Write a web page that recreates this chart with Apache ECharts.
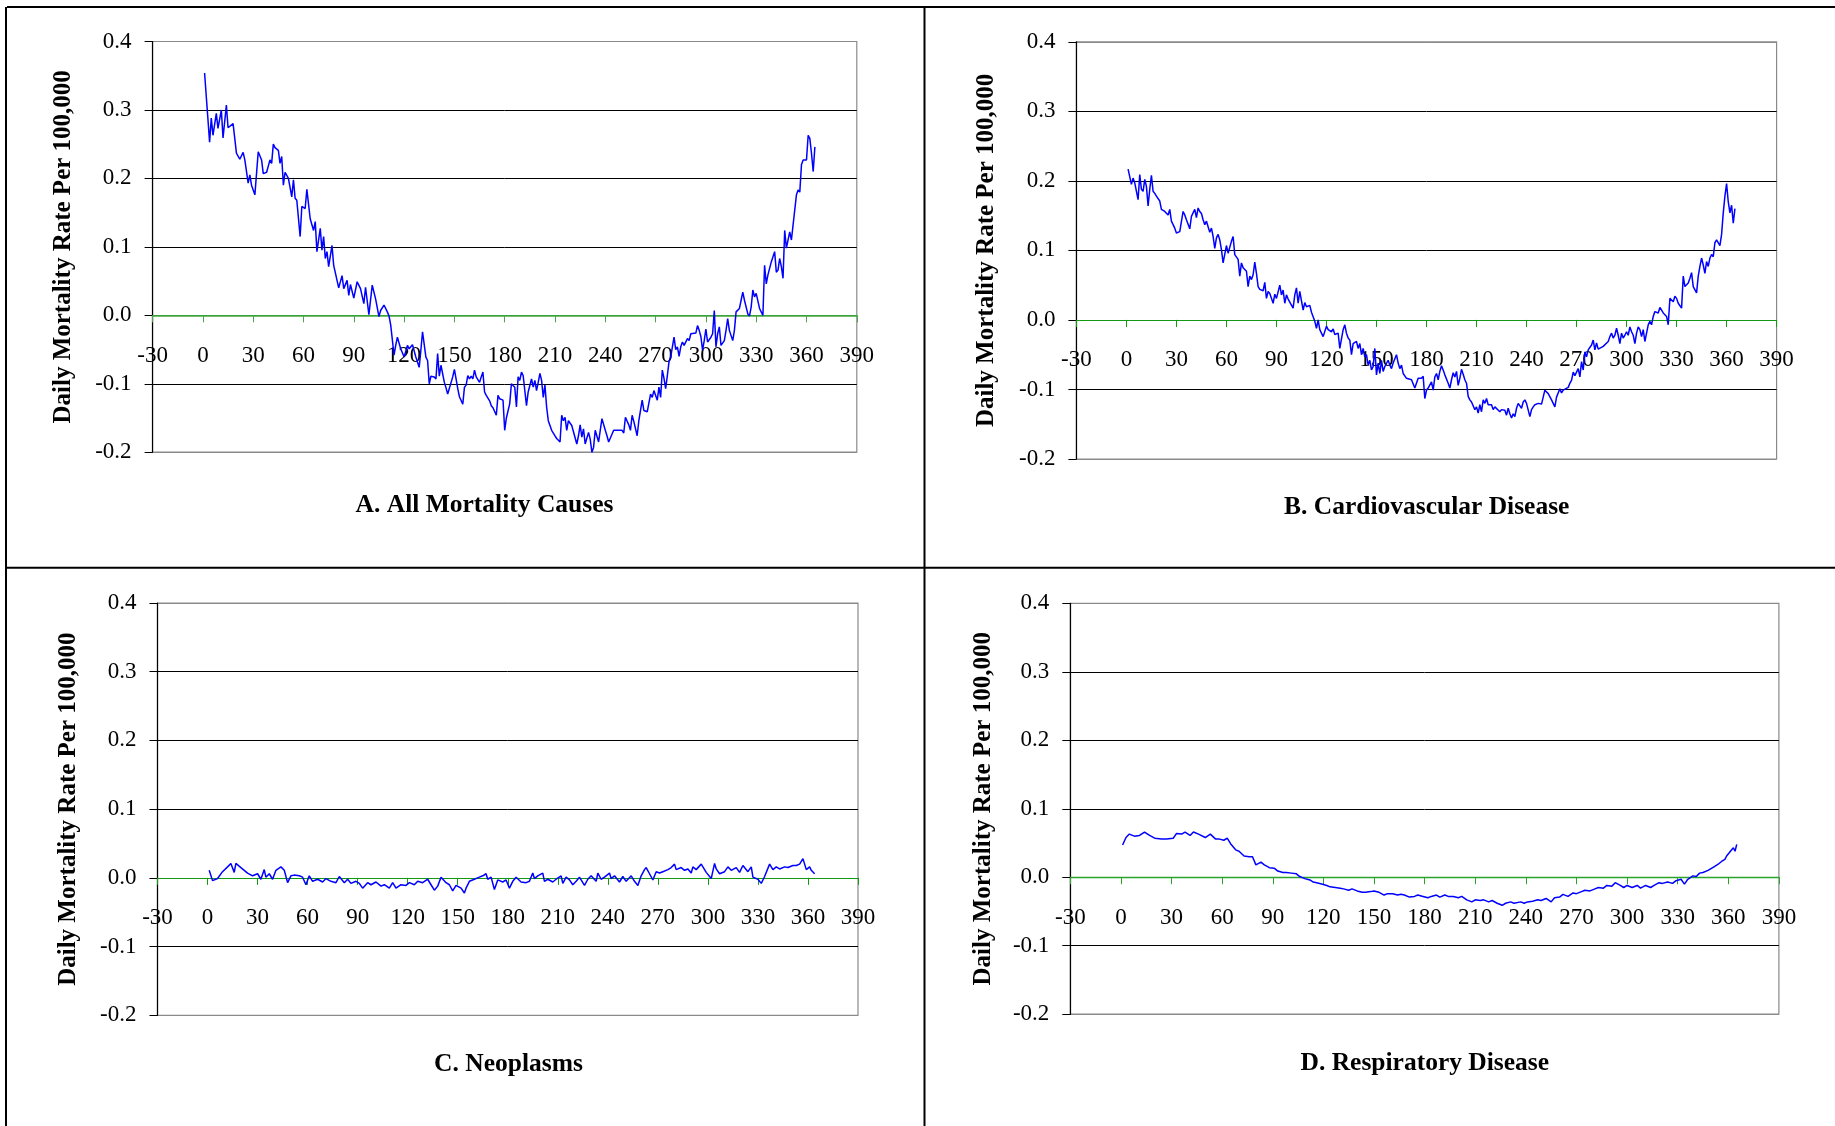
<!DOCTYPE html>
<html><head><meta charset="utf-8">
<script src="https://cdn.jsdelivr.net/npm/echarts@6/dist/echarts.min.js"></script>
<style>html,body{margin:0;padding:0;background:#fff}#c{width:1835px;height:1126px}</style>
</head><body><div id="c"></div>
<script>
const panelTitles = ['A. All Mortality Causes', 'B. Cardiovascular Disease', 'C. Neoplasms', 'D. Respiratory Disease'];
const yAxisTitle = 'Daily Mortality Rate Per 100,000';
const xTickLabels = ['-30','0','30','60','90','120','150','180','210','240','270','300','330','360','390'];
const yTickLabels = ['-0.2','-0.1','0.0','0.1','0.2','0.3','0.4'];

// [day of year, daily mortality rate deviation per 100,000]
const allCauses = [[1,0.354],[4,0.253],[5,0.288],[6,0.263],[8,0.295],[9,0.273],[11,0.300],[12,0.259],[14,0.307],[15,0.274],[16,0.272],[18,0.280],[20,0.237],[22,0.228],[24,0.238],[25,0.227],[26,0.226],[27,0.193],[28,0.205],[29,0.190],[31,0.176],[33,0.239],[35,0.227],[36,0.207],[38,0.209],[40,0.227],[41,0.222],[42,0.250],[43,0.245],[45,0.241],[46,0.222],[47,0.232],[48,0.190],[49,0.209],[51,0.200],[53,0.173],[54,0.198],[55,0.171],[56,0.168],[58,0.115],[59,0.159],[61,0.156],[62,0.184],[64,0.141],[66,0.124],[67,0.137],[68,0.093],[70,0.127],[71,0.095],[72,0.115],[73,0.083],[74,0.093],[75,0.071],[77,0.102],[78,0.073],[81,0.040],[83,0.058],[84,0.039],[86,0.051],[87,0.029],[88,0.045],[90,0.025],[92,0.049],[93,0.044],[94,0.039],[96,0.017],[97,0.041],[99,0.001],[101,0.044],[103,0.024],[105,-0.002],[106,0.007],[108,0.015],[110,0.005],[111,-0.001],[112,-0.014],[114,-0.058],[115,-0.044],[116,-0.032],[118,-0.049],[120,-0.061],[122,-0.044],[123,-0.049],[125,-0.043],[127,-0.061],[129,-0.076],[130,-0.051],[131,-0.024],[133,-0.061],[134,-0.066],[135,-0.100],[136,-0.089],[138,-0.090],[139,-0.093],[140,-0.056],[141,-0.089],[142,-0.073],[144,-0.098],[145,-0.106],[146,-0.115],[147,-0.114],[149,-0.090],[150,-0.079],[151,-0.093],[152,-0.107],[153,-0.119],[155,-0.130],[156,-0.105],[157,-0.102],[158,-0.088],[159,-0.093],[160,-0.089],[161,-0.093],[162,-0.080],[163,-0.090],[165,-0.098],[166,-0.090],[167,-0.083],[168,-0.112],[169,-0.117],[171,-0.125],[172,-0.132],[173,-0.135],[174,-0.134],[175,-0.146],[176,-0.117],[177,-0.122],[179,-0.124],[180,-0.168],[181,-0.150],[183,-0.129],[184,-0.100],[186,-0.105],[187,-0.134],[188,-0.090],[189,-0.095],[190,-0.083],[191,-0.088],[193,-0.132],[194,-0.112],[196,-0.093],[197,-0.105],[198,-0.095],[199,-0.110],[200,-0.098],[201,-0.085],[202,-0.095],[203,-0.120],[204,-0.102],[205,-0.134],[206,-0.154],[208,-0.168],[209,-0.172],[210,-0.176],[211,-0.180],[213,-0.185],[214,-0.146],[215,-0.154],[216,-0.149],[217,-0.168],[218,-0.154],[220,-0.161],[221,-0.163],[223,-0.188],[224,-0.176],[225,-0.160],[226,-0.178],[227,-0.166],[228,-0.188],[230,-0.171],[231,-0.181],[232,-0.200],[233,-0.193],[234,-0.168],[236,-0.185],[237,-0.187],[238,-0.151],[240,-0.168],[241,-0.176],[242,-0.185],[243,-0.185],[245,-0.168],[246,-0.166],[248,-0.168],[250,-0.168],[251,-0.172],[252,-0.149],[254,-0.160],[255,-0.168],[256,-0.146],[257,-0.155],[259,-0.176],[260,-0.154],[262,-0.124],[263,-0.139],[265,-0.141],[267,-0.115],[268,-0.120],[269,-0.110],[271,-0.124],[272,-0.105],[273,-0.120],[274,-0.080],[275,-0.092],[276,-0.107],[277,-0.088],[278,-0.068],[279,-0.061],[281,-0.032],[282,-0.050],[283,-0.046],[284,-0.060],[285,-0.046],[286,-0.039],[287,-0.044],[289,-0.034],[290,-0.037],[291,-0.027],[292,-0.029],[294,-0.026],[295,-0.015],[296,-0.022],[297,-0.031],[298,-0.051],[299,-0.037],[300,-0.020],[301,-0.039],[302,-0.037],[303,-0.032],[304,-0.027],[305,0.007],[306,-0.046],[307,-0.027],[308,-0.017],[309,-0.044],[311,-0.037],[312,-0.022],[313,-0.005],[314,-0.022],[316,-0.037],[317,-0.022],[318,0.005],[320,0.010],[321,0.022],[322,0.034],[323,0.022],[325,0.002],[326,-0.001],[327,0.012],[328,0.037],[329,0.027],[330,0.032],[332,0.010],[334,0.000],[335,0.073],[336,0.046],[337,0.059],[339,0.078],[340,0.080],[341,0.093],[342,0.063],[343,0.066],[344,0.083],[345,0.071],[346,0.054],[347,0.124],[348,0.098],[349,0.110],[350,0.122],[351,0.110],[352,0.132],[353,0.134],[354,0.176],[355,0.183],[356,0.180],[357,0.220],[358,0.227],[359,0.227],[360,0.227],[361,0.263],[362,0.258],[363,0.236],[364,0.210],[365,0.246]];

const cardiovascular = [[1,0.217],[3,0.195],[4,0.204],[5,0.197],[7,0.173],[8,0.209],[9,0.188],[10,0.185],[11,0.202],[12,0.192],[13,0.164],[14,0.188],[15,0.208],[16,0.185],[17,0.182],[18,0.178],[19,0.180],[20,0.171],[21,0.159],[22,0.161],[23,0.156],[25,0.151],[26,0.159],[27,0.142],[28,0.144],[29,0.132],[30,0.125],[32,0.127],[33,0.127],[34,0.156],[35,0.151],[36,0.144],[37,0.146],[38,0.131],[39,0.149],[40,0.148],[41,0.159],[42,0.147],[43,0.161],[44,0.156],[45,0.153],[46,0.144],[47,0.137],[48,0.142],[50,0.126],[51,0.132],[52,0.120],[53,0.103],[54,0.118],[55,0.123],[56,0.115],[57,0.101],[58,0.082],[59,0.080],[60,0.107],[61,0.096],[62,0.097],[63,0.113],[64,0.120],[65,0.094],[67,0.087],[68,0.063],[69,0.082],[70,0.075],[71,0.077],[72,0.070],[73,0.048],[74,0.063],[75,0.058],[76,0.065],[77,0.083],[78,0.067],[79,0.048],[80,0.044],[82,0.042],[83,0.054],[84,0.031],[85,0.041],[86,0.038],[88,0.024],[89,0.037],[90,0.031],[91,0.029],[92,0.050],[93,0.036],[94,0.043],[95,0.024],[96,0.036],[97,0.030],[100,0.017],[101,0.036],[102,0.046],[103,0.024],[104,0.041],[106,0.014],[107,0.025],[108,0.019],[110,0.021],[111,0.011],[112,0.012],[113,-0.002],[114,-0.012],[115,0.000],[116,-0.014],[117,-0.019],[118,-0.024],[120,-0.009],[121,-0.014],[122,-0.012],[123,-0.017],[124,-0.013],[125,-0.021],[127,-0.019],[128,-0.041],[130,-0.014],[131,-0.007],[132,-0.019],[133,-0.026],[134,-0.029],[135,-0.050],[136,-0.034],[137,-0.036],[138,-0.031],[139,-0.041],[140,-0.034],[141,-0.050],[142,-0.041],[143,-0.053],[144,-0.050],[145,-0.065],[146,-0.058],[147,-0.072],[148,-0.067],[149,-0.041],[150,-0.079],[151,-0.062],[152,-0.077],[153,-0.058],[154,-0.074],[155,-0.067],[156,-0.065],[157,-0.058],[158,-0.065],[159,-0.070],[160,-0.062],[162,-0.050],[163,-0.062],[164,-0.070],[165,-0.065],[166,-0.077],[168,-0.084],[169,-0.085],[171,-0.086],[172,-0.084],[173,-0.098],[175,-0.084],[176,-0.086],[177,-0.084],[178,-0.081],[179,-0.113],[180,-0.101],[181,-0.098],[183,-0.089],[184,-0.101],[185,-0.082],[186,-0.077],[187,-0.086],[188,-0.074],[189,-0.066],[190,-0.072],[191,-0.079],[193,-0.091],[194,-0.098],[195,-0.086],[196,-0.076],[197,-0.082],[198,-0.074],[199,-0.094],[200,-0.084],[201,-0.071],[202,-0.078],[203,-0.086],[204,-0.091],[205,-0.110],[206,-0.115],[207,-0.118],[208,-0.120],[209,-0.129],[210,-0.125],[211,-0.134],[212,-0.122],[213,-0.132],[214,-0.115],[215,-0.120],[216,-0.113],[217,-0.122],[218,-0.120],[219,-0.122],[220,-0.129],[221,-0.125],[222,-0.126],[224,-0.132],[225,-0.129],[227,-0.130],[228,-0.137],[229,-0.127],[230,-0.135],[231,-0.141],[232,-0.135],[233,-0.139],[234,-0.127],[235,-0.120],[236,-0.122],[237,-0.127],[238,-0.118],[239,-0.115],[240,-0.120],[242,-0.139],[243,-0.129],[244,-0.125],[245,-0.122],[246,-0.120],[247,-0.120],[248,-0.121],[249,-0.121],[250,-0.120],[251,-0.101],[252,-0.101],[253,-0.106],[254,-0.108],[255,-0.115],[256,-0.114],[257,-0.125],[258,-0.111],[260,-0.099],[261,-0.105],[262,-0.101],[263,-0.101],[265,-0.097],[266,-0.091],[267,-0.087],[268,-0.075],[269,-0.080],[270,-0.078],[271,-0.070],[272,-0.082],[273,-0.060],[274,-0.072],[275,-0.046],[276,-0.053],[277,-0.043],[279,-0.036],[280,-0.029],[281,-0.043],[282,-0.033],[283,-0.042],[284,-0.041],[286,-0.038],[287,-0.036],[289,-0.031],[290,-0.024],[291,-0.019],[292,-0.026],[293,-0.022],[294,-0.012],[295,-0.022],[296,-0.034],[297,-0.019],[298,-0.026],[299,-0.022],[300,-0.017],[301,-0.022],[302,-0.010],[303,-0.017],[304,-0.022],[305,-0.034],[306,-0.019],[307,-0.010],[308,-0.014],[309,-0.024],[310,-0.014],[311,-0.031],[312,-0.019],[313,-0.007],[314,-0.002],[315,-0.007],[316,0.005],[317,0.012],[318,0.012],[319,0.010],[320,0.018],[321,0.017],[322,0.010],[323,0.010],[324,0.005],[325,-0.007],[326,0.031],[327,0.029],[328,0.026],[329,0.034],[330,0.031],[331,0.024],[332,0.026],[333,0.017],[334,0.063],[335,0.048],[336,0.050],[337,0.053],[338,0.060],[339,0.068],[340,0.048],[341,0.046],[342,0.039],[343,0.063],[344,0.077],[345,0.089],[346,0.079],[347,0.067],[348,0.084],[349,0.077],[350,0.089],[351,0.094],[352,0.091],[353,0.111],[354,0.115],[355,0.113],[356,0.107],[357,0.123],[358,0.154],[359,0.178],[360,0.196],[361,0.170],[362,0.154],[363,0.165],[364,0.139],[365,0.160]];

const neoplasms = [[1,0.011],[3,-0.004],[6,-0.001],[9,0.009],[12,0.016],[14,0.021],[16,0.008],[17,0.021],[20,0.015],[22,0.011],[24,0.007],[25,0.009],[27,0.003],[30,0.006],[32,-0.002],[34,0.012],[35,0.001],[37,0.006],[39,-0.002],[41,0.011],[44,0.016],[46,0.011],[48,-0.007],[50,0.003],[52,0.004],[55,0.003],[57,0.001],[59,-0.010],[61,0.003],[63,-0.005],[66,-0.002],[69,-0.006],[71,-0.001],[74,-0.005],[77,-0.007],[79,0.002],[82,-0.007],[84,-0.002],[86,-0.008],[89,-0.005],[91,-0.008],[93,-0.015],[96,-0.007],[98,-0.010],[101,-0.006],[104,-0.012],[106,-0.010],[109,-0.015],[111,-0.007],[113,-0.015],[116,-0.010],[119,-0.011],[121,-0.007],[124,-0.010],[126,-0.005],[129,-0.007],[132,-0.002],[134,-0.010],[136,-0.018],[138,-0.012],[140,0.001],[143,-0.007],[145,-0.010],[147,-0.019],[149,-0.011],[152,-0.015],[154,-0.022],[155,-0.015],[157,-0.005],[160,-0.002],[163,0.001],[165,0.003],[167,0.006],[168,-0.002],[170,0.001],[172,-0.017],[174,-0.003],[177,-0.006],[179,-0.003],[181,-0.015],[183,-0.005],[185,0.001],[188,-0.006],[191,-0.007],[193,-0.005],[195,0.007],[196,-0.001],[198,0.003],[201,0.007],[202,-0.005],[204,-0.002],[207,-0.006],[209,-0.002],[212,0.003],[213,-0.008],[215,0.001],[217,-0.003],[219,-0.010],[221,-0.005],[223,0.001],[226,-0.011],[228,-0.002],[230,0.003],[233,-0.005],[234,0.007],[236,-0.002],[238,0.001],[241,0.007],[242,-0.001],[244,0.003],[247,-0.006],[249,0.002],[251,-0.005],[254,0.003],[256,-0.005],[258,-0.011],[260,0.003],[262,0.012],[263,0.015],[265,0.006],[267,-0.003],[269,0.009],[271,0.007],[273,0.009],[276,0.012],[278,0.015],[280,0.020],[281,0.012],[284,0.015],[286,0.011],[288,0.013],[290,0.007],[291,0.016],[293,0.012],[296,0.020],[297,0.021],[299,0.008],[302,-0.001],[304,0.021],[305,0.013],[307,0.006],[310,0.009],[312,0.016],[314,0.011],[317,0.015],[319,0.008],[321,0.018],[324,0.009],[326,0.016],[327,0.001],[330,-0.002],[332,-0.008],[334,0.002],[337,0.020],[339,0.012],[341,0.016],[343,0.013],[346,0.016],[348,0.015],[351,0.018],[353,0.018],[355,0.020],[357,0.028],[359,0.012],[361,0.016],[362,0.011],[364,0.006]];

const respiratory = [[1,0.047],[3,0.058],[5,0.063],[8,0.060],[11,0.061],[14,0.066],[17,0.061],[20,0.057],[24,0.056],[27,0.056],[31,0.057],[33,0.064],[36,0.063],[38,0.066],[41,0.061],[43,0.066],[46,0.063],[50,0.058],[53,0.063],[56,0.056],[58,0.056],[61,0.054],[63,0.057],[65,0.049],[68,0.040],[70,0.038],[73,0.031],[76,0.030],[78,0.030],[80,0.018],[83,0.022],[85,0.018],[88,0.014],[91,0.013],[93,0.009],[96,0.007],[98,0.007],[101,0.006],[104,0.005],[106,0.001],[109,-0.002],[112,-0.004],[114,-0.007],[116,-0.008],[119,-0.010],[122,-0.012],[124,-0.014],[127,-0.015],[130,-0.016],[132,-0.017],[135,-0.019],[137,-0.017],[140,-0.020],[143,-0.022],[145,-0.022],[148,-0.021],[150,-0.020],[153,-0.022],[156,-0.026],[158,-0.024],[161,-0.024],[164,-0.026],[166,-0.025],[168,-0.026],[171,-0.029],[174,-0.028],[176,-0.026],[179,-0.028],[182,-0.030],[184,-0.028],[187,-0.026],[189,-0.029],[192,-0.026],[194,-0.028],[197,-0.028],[200,-0.030],[202,-0.028],[205,-0.033],[208,-0.036],[210,-0.033],[213,-0.034],[215,-0.033],[218,-0.036],[220,-0.034],[223,-0.038],[226,-0.041],[228,-0.038],[231,-0.036],[233,-0.038],[237,-0.036],[239,-0.038],[241,-0.036],[244,-0.035],[247,-0.033],[249,-0.034],[252,-0.031],[255,-0.036],[257,-0.030],[260,-0.029],[262,-0.025],[265,-0.028],[268,-0.023],[270,-0.024],[273,-0.021],[275,-0.019],[278,-0.020],[281,-0.017],[283,-0.015],[286,-0.016],[288,-0.012],[291,-0.013],[293,-0.008],[296,-0.012],[298,-0.015],[300,-0.012],[303,-0.015],[306,-0.012],[308,-0.016],[311,-0.012],[314,-0.015],[316,-0.012],[319,-0.008],[321,-0.009],[324,-0.007],[327,-0.009],[329,-0.005],[332,-0.003],[334,-0.010],[336,-0.003],[339,0.002],[341,0.001],[343,0.006],[345,0.007],[348,0.010],[350,0.013],[352,0.016],[354,0.019],[356,0.023],[358,0.026],[359,0.031],[362,0.040],[363,0.043],[364,0.038],[365,0.048]];

const seriesData = [allCauses, cardiovascular, neoplasms, respiratory];

const FONT = '"Liberation Serif", "Times New Roman", serif';
const panels = [
  {left:152.6, top:41.5, width:704.2, height:410.7, zeroColor:'#46a846', zeroWidth:1.6, yTitleX:64, titleX:484.5, titleY:505},
  {left:1076.4, top:41.8, width:700.2, height:417.2, zeroColor:'#119a11', zeroWidth:1.2, yTitleX:987, titleX:1426.7, titleY:507.5},
  {left:157.5, top:603, width:700.5, height:412.3, zeroColor:'#119a11', zeroWidth:1.2, yTitleX:69, titleX:508.5, titleY:1064.5},
  {left:1070.3, top:603.3, width:708.6, height:410.9, zeroColor:'#2aa52a', zeroWidth:1.4, yTitleX:984, titleX:1424.8, titleY:1063.5}
];

const grids = [], xAxes = [], yAxes = [], series = [], graphics = [];
panels.forEach((p, i) => {
  // the x axis sits on the zero line; its labels are placed below that line
  const zeroToBottom = p.height / 3;
  grids.push({left:p.left, top:p.top, width:p.width, height:p.height, show:true, borderColor:'#8a8a8a', borderWidth:1.2, backgroundColor:'rgba(0,0,0,0)', outerBoundsMode:'none', containLabel:false});
  xAxes.push({
    gridIndex:i, type:'value', min:-30, max:390, interval:30,
    axisLine:{show:true, onZero:true, lineStyle:{color:p.zeroColor, width:p.zeroWidth}},
    axisTick:{show:true, inside:false, length:7, lineStyle:{color:p.zeroColor, width:1}},
    axisLabel:{show:true, margin:29 - zeroToBottom, fontFamily:FONT, fontSize:23, color:'#000', showMinLabel:true, showMaxLabel:true,
      formatter:(v) => xTickLabels[Math.round((v + 30) / 30)]},
    splitLine:{show:false}
  });
  yAxes.push({
    gridIndex:i, type:'value', min:-0.2, max:0.4, interval:0.1,
    axisLine:{show:true, onZero:false, lineStyle:{color:'#000', width:1.2}},
    axisTick:{show:true, inside:false, length:8, lineStyle:{color:'#000', width:1}},
    axisLabel:{show:true, margin:21, fontFamily:FONT, fontSize:23, color:'#000', showMinLabel:true, showMaxLabel:true,
      formatter:(v) => yTickLabels[Math.round((v + 0.2) / 0.1)]},
    splitLine:{show:true, showMinLine:true, showMaxLine:true, lineStyle:{color:['#8a8a8a','#000','#119a11','#000','#000','#000','#8a8a8a'], width:1}}
  });
  series.push({
    type:'line', xAxisIndex:i, yAxisIndex:i, data:seriesData[i],
    showSymbol:false, symbol:'none', smooth:false, z:5,
    lineStyle:{color:'#0000ff', width:1.5}, itemStyle:{color:'#0000ff'}, silent:true
  });
  graphics.push({type:'text', x:p.yTitleX, y:p.top + p.height / 2, rotation:Math.PI / 2,
    style:{text:yAxisTitle, fontFamily:FONT, fontWeight:'bold', fontSize:25, fill:'#000', align:'center', verticalAlign:'middle'}});
  graphics.push({type:'text', x:p.titleX, y:p.titleY,
    style:{text:panelTitles[i], fontFamily:FONT, fontWeight:'bold', fontSize:25.5, fill:'#000', align:'center', verticalAlign:'middle'}});
});

// table cell borders around the four panels
[[7,7,1835,7],[6,7,6,1126],[924.5,7,924.5,1126],[7,567.8,1835,567.8]].forEach(l => {
  graphics.push({type:'line', shape:{x1:l[0], y1:l[1], x2:l[2], y2:l[3]}, style:{stroke:'#000', lineWidth:2}});
});

const chart = echarts.init(document.getElementById('c'), null, {renderer:'canvas'});
chart.setOption({
  animation:false,
  backgroundColor:'#fff',
  grid:grids, xAxis:xAxes, yAxis:yAxes, series:series,
  graphic:{elements:graphics}
});
</script></body></html>
